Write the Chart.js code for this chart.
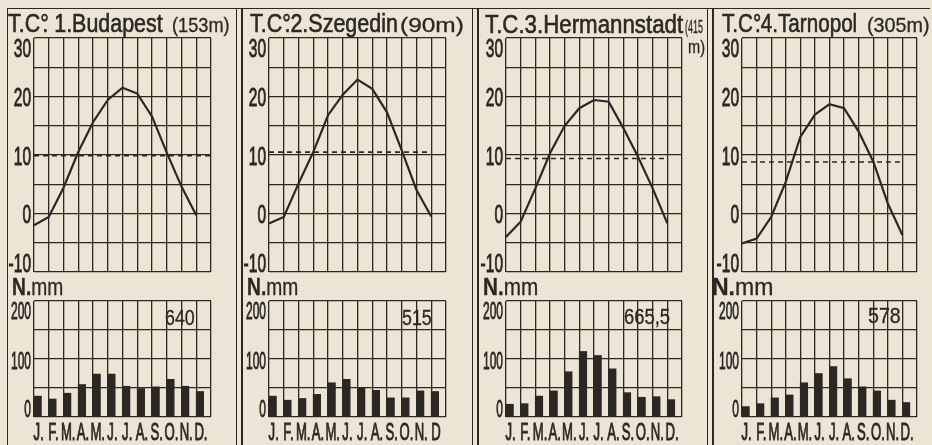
<!DOCTYPE html>
<html>
<head>
<meta charset="utf-8">
<script src="https://cdn.jsdelivr.net/npm/chart.js@4"></script>
<style>
  body { margin: 0; background: #ece4d4; }
  #wrap { position: relative; width: 932px; height: 445px; overflow: hidden; background: #ece4d4;
          font-family: "Liberation Sans", Arial, sans-serif; color: #2b2824; }
  canvas { position: absolute; }
  .t { position: absolute; white-space: nowrap; transform-origin: 0 0; -webkit-text-stroke: 0.3px #2b2824; }
  .ttl { -webkit-text-stroke: 0.6px #2b2824; }
  .dp { margin-left: -0.3em; }
  .line { position: absolute; background: #2b2824; }
</style>
</head>
<body>
<div id="wrap"></div>
<script>
// month labels and axis labels
const months = ["J.", "F.", "M.", "A.", "M.", "J.", "J.", "A.", "S.", "O.", "N.", "D."];
const monthsSzegedin = ["J.", "F.", "M.", "A.", "M.", "J.", "J.", "A.", "S.", "O.", "N.", "D"];
const tempTicks = [30, 20, 10, 0, -10];
const rainTicks = [200, 100, 0];

// 1. Budapest
const budapestTemp = [-2.0, -0.6, 4.4, 10.5, 15.6, 19.4, 21.5, 20.5, 16.6, 10.4, 4.6, -0.3];
const budapestRain = [36, 31, 41, 56, 74, 74, 53, 49, 52, 65, 53, 44];
const budapestMean = 9.9;
// 2. Szegedin
const szegedinTemp = [-1.7, -0.6, 5.1, 10.5, 16.8, 20.3, 22.9, 21.3, 17.3, 10.8, 4.0, -0.5];
const szegedinRain = [36, 29, 32, 39, 59, 65, 51, 46, 33, 33, 45, 44];
const szegedinMean = 10.5;
// 3. Hermannstadt
const hermannstadtTemp = [-4.0, -1.4, 4.3, 10.3, 15.0, 18.0, 19.4, 19.1, 14.6, 9.7, 4.3, -1.7];
const hermannstadtRain = [22, 23, 36, 45, 78, 113, 106, 83, 42, 34, 35, 30];
const hermannstadtMean = 9.4;
// 4. Tarnopol
const tarnopolTemp = [-5.1, -4.3, -0.6, 5.4, 13.1, 16.9, 18.7, 18.0, 14.0, 8.9, 1.7, -3.7];
const tarnopolRain = [18, 23, 33, 38, 59, 75, 87, 66, 52, 45, 29, 25];
const tarnopolMean = 8.8;

const INK = "#2b2824";
const wrap = document.getElementById("wrap");

const stations = [
  { temp: budapestTemp, rain: budapestRain, mean: budapestMean, meanEnd: 12, months: months },
  { temp: szegedinTemp, rain: szegedinRain, mean: szegedinMean, meanEnd: 11, months: monthsSzegedin },
  { temp: hermannstadtTemp, rain: hermannstadtRain, mean: hermannstadtMean, meanEnd: 11, months: months },
  { temp: tarnopolTemp, rain: tarnopolRain, mean: tarnopolMean, meanEnd: 11, months: months }
];

// plot boxes on the page
const boxes = [
  { x0: 8, left: 34, right: 211 },
  { x0: 243, left: 269, right: 446 },
  { x0: 480, left: 506, right: 682 },
  { x0: 715, left: 742, right: 917 }
];

function condText(ctx, txt, x, y, align, sx) {
  ctx.save();
  ctx.translate(x, y);
  ctx.scale(sx, 1);
  ctx.textAlign = align;
  ctx.textBaseline = "alphabetic";
  ctx.fillText(txt, 0, 0);
  ctx.strokeText(txt, 0, 0);
  ctx.restore();
}

const sideLabels = {
  id: "sideLabels",
  afterDraw(chart, args, opts) {
    const { ctx, chartArea, scales } = chart;
    ctx.save();
    ctx.fillStyle = INK;
    ctx.strokeStyle = INK;
    ctx.lineWidth = 0.9;
    ctx.font = opts.size + 'px "Liberation Sans", Arial, sans-serif';
    const cap = opts.size * 0.716;
    opts.ticks.forEach((v) => {
      const y = scales.y.getPixelForValue(v);
      let base = y + cap / 2 + 1;
      if (v === scales.y.max) base = y + cap + 1;
      if (v === scales.y.min) base = y;
      condText(ctx, String(v), chartArea.left - 3, base, "right", opts.sx);
    });
    if (opts.months) {
      ctx.font = '23px "Liberation Sans", Arial, sans-serif';
      opts.months.forEach((m, i) => {
        const x = scales.x.getPixelForValue(i + 0.25) + 1;
        condText(ctx, m, x, chartArea.bottom + 23, "center", 0.57);
      });
    }
    ctx.restore();
  }
};

function axis(min, max, step, horiz) {
  return {
    type: "linear", min: min, max: max, offset: false,
    ticks: { stepSize: step, display: false, maxTicksLimit: 50 },
    grid: { color: INK, lineWidth: 1.3, drawTicks: false, offset: false },
    border: { display: false },
    afterFit(s) { if (horiz) s.height = 0; else s.width = 0; }
  };
}

function makeCanvas(x, y, w, h) {
  const c = document.createElement("canvas");
  c.width = w; c.height = h;
  c.style.left = x + "px"; c.style.top = y + "px";
  c.style.width = w + "px"; c.style.height = h + "px";
  wrap.appendChild(c);
  return c;
}

stations.forEach((st, k) => {
  const b = boxes[k];
  const w = b.right - b.x0 + 6;

  new Chart(makeCanvas(b.x0, 28, w, 252), {
    type: "line",
    data: {
      datasets: [
        { data: st.temp.map((t, i) => ({ x: i, y: t })), borderColor: INK, borderWidth: 2.2,
          pointRadius: 0, tension: 0 },
        { data: [{ x: 0, y: st.mean }, { x: st.meanEnd, y: st.mean }], borderColor: INK,
          borderWidth: 1.6, borderDash: [5, 4], pointRadius: 0 }
      ]
    },
    options: {
      responsive: false, animation: false, devicePixelRatio: 1,
      layout: { padding: { left: b.left - b.x0, top: 10, right: 6, bottom: 8 } },
      plugins: { legend: { display: false }, tooltip: { enabled: false },
                 sideLabels: { ticks: tempTicks, size: 25, sx: 0.62 } },
      scales: { x: axis(0, 12, 1, true), y: axis(-10, 30, 5, false) }
    },
    plugins: [sideLabels]
  });

  new Chart(makeCanvas(b.x0, 296, w, 149), {
    type: "bar",
    data: {
      datasets: [
        { data: st.rain.map((v, i) => ({ x: i + 0.25, y: v })), backgroundColor: INK,
          borderWidth: 0, barThickness: 7.5 }
      ]
    },
    options: {
      responsive: false, animation: false, devicePixelRatio: 1,
      layout: { padding: { left: b.left - b.x0, top: 5, right: 6, bottom: 28 } },
      plugins: { legend: { display: false }, tooltip: { enabled: false },
                 sideLabels: { ticks: rainTicks, size: 24, sx: 0.5, months: st.months } },
      scales: { x: axis(0, 12, 1, true), y: axis(0, 200, 50, false) }
    },
    plugins: [sideLabels]
  });
});

// titles and captions: [html, x, baseline, font size, target width, class]
const texts = [
  ['T.C°<span class="dp">.</span> 1.Budapest', 8, 32, 26, 155, "ttl"],
  ["(153m)", 172, 32, 21, 58, ""],
  ['T.C°<span class="dp">.</span>2.Szegedin', 250, 32, 26, 148, "ttl"],
  ["(90m)", 400, 32, 21, 64, ""],
  ["T.C.3.Hermannstadt", 485, 33, 26, 198, "ttl"],
  ["(415", 685, 33, 18, 18, ""],
  ["m)", 688, 53, 18, 17, ""],
  ['T.C°<span class="dp">.</span>4.Tarnopol', 722, 32, 26, 135, "ttl"],
  ["(305m)", 867, 32, 21, 63, ""],
  ["<b>N.</b>mm", 12, 295, 23, 51, ""],
  ["<b>N.</b>mm", 247, 295, 23, 51, ""],
  ["<b>N.</b>mm", 483, 295, 23, 55, ""],
  ["<b>N.</b>mm", 712, 295, 23, 61, ""],
  ["640", 165, 326, 22, 30, ""],
  ["515", 402, 326, 22, 30, ""],
  ["665,5", 624, 325, 22, 46, ""],
  ["578", 868, 324, 22, 33, ""]
];
texts.forEach(([html, x, base, fs, tw, cls]) => {
  const el = document.createElement("div");
  el.className = "t " + cls;
  el.innerHTML = html;
  el.style.fontSize = fs + "px";
  el.style.lineHeight = fs + "px";
  el.style.left = x + "px";
  el.style.top = (base - 0.8465 * fs) + "px";
  wrap.appendChild(el);
  el.style.transform = "scaleX(" + (tw / el.offsetWidth) + ")";
});

// frame lines
const lines = [
  [7, 8, 923, 1], [7, 8, 1, 437],
  [236, 8, 1, 437], [241, 8, 2, 437],
  [472, 8, 1, 437], [477, 8, 2, 437],
  [707, 8, 1, 437], [712, 8, 2, 437]
];
lines.forEach(([x, y, w, h]) => {
  const d = document.createElement("div");
  d.className = "line";
  d.style.left = x + "px"; d.style.top = y + "px";
  d.style.width = w + "px"; d.style.height = h + "px";
  wrap.appendChild(d);
});
</script>
</body>
</html>
